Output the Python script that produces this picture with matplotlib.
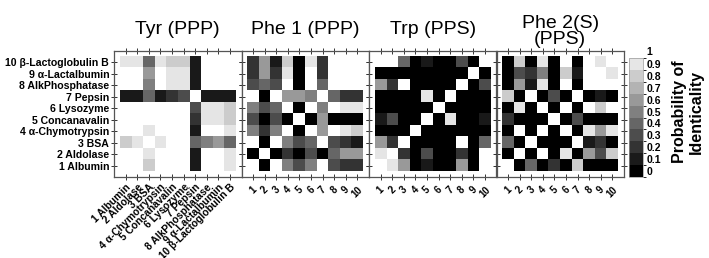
import numpy as np
import matplotlib

matplotlib.use("Agg")
import matplotlib.pyplot as plt
from matplotlib.colors import BoundaryNorm, ListedColormap

plt.rcParams["font.family"] = ["Liberation Sans", "DejaVu Sans"]

# protein labels, index 1 at the bottom / left
PROTEINS = [
    "1 Albumin", "2 Aldolase", "3 BSA", "4 \u03b1-Chymotrypsin", "5 Concanavalin",
    "6 Lysozyme", "7 Pepsin", "8 AlkPhosphatase", "9 \u03b1-Lactalbumin",
    "10 \u03b2-Lactoglobulin B",
]
TITLES = ["Tyr (PPP)", "Phe 1 (PPP)", "Trp (PPS)", "Phe 2(S)\n(PPS)"]

# probability of identicality, rows listed top (protein 10) to bottom (protein 1)
tyr = [
    [0.91, 0.91, 0.45, 0.95, 0.82, 0.82, 0.15, 1, 1, 1],
    [1, 1, 0.65, 1, 0.95, 0.95, 0.15, 1, 1, 1],
    [1, 1, 0.55, 1, 0.95, 0.95, 0.15, 1, 1, 1],
    [0.15, 0.15, 0.42, 0.15, 0.25, 0.35, 1, 0.15, 0.15, 0.15],
    [1, 1, 1, 1, 1, 1, 0.35, 0.95, 0.95, 0.82],
    [1, 1, 1, 1, 1, 1, 0.25, 0.95, 0.95, 0.82],
    [1, 1, 0.95, 1, 1, 1, 0.15, 1, 1, 0.95],
    [0.82, 0.95, 1, 0.95, 1, 1, 0.42, 0.55, 0.65, 0.42],
    [1, 1, 0.95, 1, 1, 1, 0.15, 1, 1, 0.95],
    [1, 1, 0.82, 1, 1, 1, 0.15, 1, 1, 0.95],
]
phe1 = [
    [0.25, 0.68, 0.15, 0.82, 0.02, 0.92, 0.25, 1, 1, 1],
    [0.25, 0.68, 0.22, 0.92, 0.02, 1, 0.25, 1, 1, 1],
    [0.35, 0.45, 0.32, 1, 0.02, 1, 0.45, 1, 1, 1],
    [1, 0.02, 1, 0.68, 0.68, 0.55, 1, 0.45, 0.25, 0.25],
    [0.55, 0.32, 0.45, 1, 0.02, 1, 0.55, 1, 0.92, 0.92],
    [0.35, 0.02, 0.35, 0.02, 1, 0.02, 0.68, 0.02, 0.02, 0.02],
    [0.55, 0.25, 0.55, 1, 0.02, 1, 0.68, 1, 0.92, 0.82],
    [1, 0.02, 1, 0.55, 0.35, 0.45, 1, 0.35, 0.25, 0.15],
    [0.02, 1, 0.02, 0.25, 0.02, 0.35, 0.02, 0.45, 0.68, 0.68],
    [1, 0.02, 1, 0.55, 0.35, 0.55, 1, 0.35, 0.25, 0.25],
]
trp = [
    [1, 1, 0.45, 0.02, 0.15, 0.02, 0.02, 0.35, 0.02, 1],
    [0.02, 0.02, 0.02, 0.02, 0.02, 0.02, 0.02, 0.02, 1, 0.02],
    [0.62, 0.25, 1, 0.02, 0.02, 0.02, 0.02, 1, 0.02, 0.35],
    [0.02, 0.02, 0.02, 0.02, 0.92, 0.02, 1, 0.02, 0.02, 0.02],
    [0.02, 0.02, 0.02, 0.02, 0.02, 1, 0.02, 0.02, 0.02, 0.02],
    [0.15, 0.35, 0.02, 0.02, 1, 0.02, 0.92, 0.02, 0.02, 0.15],
    [0.02, 0.02, 0.02, 1, 0.02, 0.02, 0.02, 0.02, 0.02, 0.02],
    [0.68, 0.25, 1, 0.02, 0.02, 0.02, 0.02, 1, 0.02, 0.45],
    [0.92, 1, 0.25, 0.02, 0.35, 0.02, 0.02, 0.25, 0.02, 1],
    [1, 0.92, 0.68, 0.02, 0.15, 0.02, 0.02, 0.62, 0.02, 1],
]
phe2 = [
    [0.02, 0.82, 0.02, 0.92, 0.02, 1, 0.02, 1, 0.92, 1],
    [0.02, 0.35, 0.25, 0.55, 0.02, 0.82, 0.15, 1, 1, 0.92],
    [0.02, 0.68, 0.15, 0.92, 0.02, 1, 0.02, 1, 1, 1],
    [0.82, 0.02, 1, 0.02, 0.35, 0.02, 1, 0.02, 0.15, 0.02],
    [0.02, 0.92, 0.02, 1, 0.02, 1, 0.02, 1, 0.82, 1],
    [0.25, 0.02, 0.02, 0.02, 1, 0.02, 0.35, 0.02, 0.02, 0.02],
    [0.02, 1, 0.02, 1, 0.02, 1, 0.02, 0.92, 0.62, 0.92],
    [0.45, 0.02, 1, 0.02, 0.02, 0.02, 1, 0.15, 0.25, 0.02],
    [0.02, 1, 0.02, 1, 0.02, 0.92, 0.02, 0.68, 0.35, 0.82],
    [1, 0.02, 0.45, 0.02, 0.25, 0.02, 0.82, 0.02, 0.02, 0.02],
]
MATRICES = [tyr, phe1, trp, phe2]

# 10 grey steps, exact 1.0 (identical) drawn white
cmap = ListedColormap([str(k / 10) for k in range(10)])
cmap.set_over("white")
norm = BoundaryNorm(np.linspace(0, 1, 11), cmap.N)

W, H = 709, 258
fig = plt.figure(figsize=(W / 100, H / 100), dpi=100)

left0, pw, top, bot = 114, 127.5, 51, 177
ticks = np.arange(1, 11)
for i, (mat, title) in enumerate(zip(MATRICES, TITLES)):
    ax = fig.add_axes([(left0 + i * pw) / W, 1 - bot / H, pw / W, (bot - top) / H])
    im = ax.imshow(np.array(mat, dtype=float), cmap=cmap, norm=norm,
                   extent=(0.5, 10.5, 0.5, 10.5), origin="upper",
                   interpolation="nearest", aspect="auto")
    ax.set_xlim(0, 11)
    ax.set_ylim(0, 11)
    ax.set_xticks(ticks)
    ax.set_yticks(ticks)
    ax.tick_params(direction="inout", length=4, width=0.7, color="#333333",
                   top=True, right=True, pad=1.5)
    for s in ax.spines.values():
        s.set_color("#555555")
        s.set_linewidth(0.9)
    if i == 0:
        ax.set_yticklabels(PROTEINS, fontsize=7.6, fontweight="bold")
        ax.set_xticklabels(PROTEINS, fontsize=7.4, fontweight="bold", rotation=45,
                           ha="right", rotation_mode="anchor")
    else:
        ax.set_yticklabels([])
        ax.set_xticklabels([str(t) for t in ticks], fontsize=7, fontweight="bold",
                           rotation=45, ha="center", va="top")
        ax.tick_params(axis="x", pad=3.5)
    if "\n" in title:
        ax.set_title(title, fontsize=14, pad=5, linespacing=0.95)
    else:
        ax.set_title(title, fontsize=14, pad=12)

# colour bar: labels sit in the middle of each step
cax = fig.add_axes([629 / W, 1 - 177 / H, 14 / W, 119 / H])
cb = fig.colorbar(im, cax=cax)
cb.outline.set_linewidth(0.5)
cb.outline.set_edgecolor("#999999")
cb.set_ticks(np.arange(0.05, 1.0, 0.1))
cb.set_ticklabels(["0"] + [f"{k / 10:.1f}" for k in range(1, 10)])
cax.tick_params(length=0, pad=2.5, labelsize=7.5)
for lab in cax.get_yticklabels():
    lab.set_fontweight("bold")
cax.text(1.0 + 2.5 / 72 * 100 / 14, 1.05, "1", transform=cax.transAxes,
         ha="left", va="center", fontsize=7.5, fontweight="bold")
fig.text(688 / W, 1 - 112 / H, "Probability of\nIdenticality", rotation=90,
         ha="center", va="center", multialignment="center", fontsize=11.5,
         fontweight="bold", linespacing=1.1)

fig.savefig("out.png", dpi=100)
